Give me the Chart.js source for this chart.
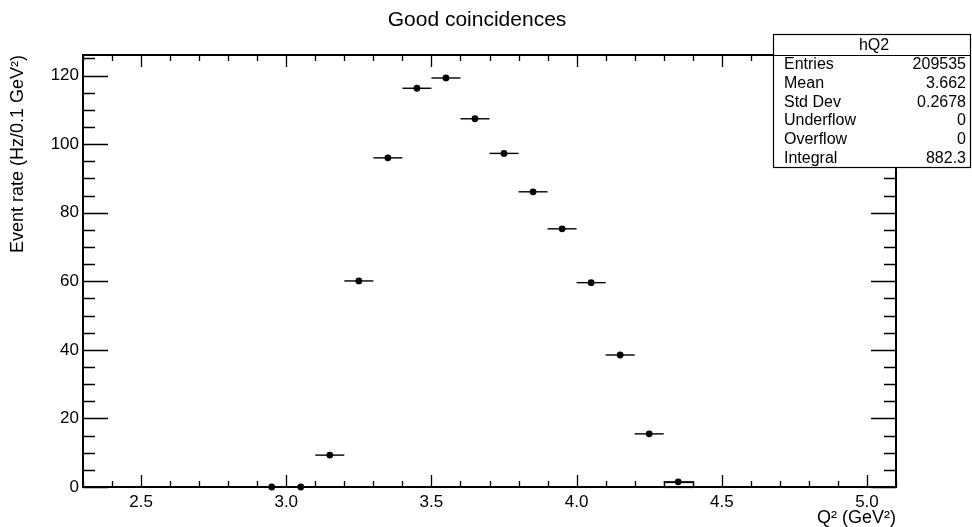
<!DOCTYPE html>
<html>
<head>
<meta charset="utf-8">
<title>Good coincidences</title>
<script src="https://cdn.jsdelivr.net/npm/chart.js@4/dist/chart.umd.min.js"></script>
<style>
  html, body { margin: 0; padding: 0; background: #ffffff; }
  canvas { display: block; }
</style>
</head>
<body>
<canvas id="chart" width="972" height="527"></canvas>
<script>
// Q^2 bin centres (GeV^2), bin width 0.1
const binCenters = [2.95, 3.05, 3.15, 3.25, 3.35, 3.45, 3.55, 3.65, 3.75, 3.85, 3.95, 4.05, 4.15, 4.25, 4.35];
// Event rate per bin (Hz / 0.1 GeV^2)
const eventRate = [0, 0, 9.3, 60.1, 96.0, 116.3, 119.3, 107.4, 97.3, 86.1, 75.3, 59.6, 38.5, 15.5, 1.5];
const binWidth = 0.1;
// Bins drawn with an outlined box under the marker
const boxedBins = [4.35];

const xTickValues = [2.5, 3.0, 3.5, 4.0, 4.5, 5.0];
const yTickValues = [0, 20, 40, 60, 80, 100, 120];

const chartTitle = 'Good coincidences';

// Statistics box
const statsTitle = 'hQ2';
const statLabels = ['Entries', 'Mean', 'Std Dev', 'Underflow', 'Overflow', 'Integral'];
const statValues = ['209535', '3.662', '0.2678', '0', '0', '882.3'];

const FONT = "'Liberation Sans', Arial, Helvetica, sans-serif";

const points = binCenters.map((x, i) => ({ x: x, y: eventRate[i] }));

// Frame with inward ticks on all four sides, plus the chart title
const framePlugin = {
  id: 'frameTicks',
  beforeDatasetsDraw(chart) {
    const { ctx, chartArea: a, scales: { x, y } } = chart;
    ctx.save();
    ctx.strokeStyle = '#000';
    ctx.lineWidth = 1.3;
    // x ticks: minor every 0.1, major every 0.5
    for (let k = 23; k <= 51; k++) {
      const v = k / 10;
      const px = Math.round(x.getPixelForValue(v)) + 0.5;
      const major = k % 5 === 0;
      const len = major ? 12 : 6;
      ctx.beginPath();
      ctx.moveTo(px, a.bottom); ctx.lineTo(px, a.bottom - len);
      ctx.moveTo(px, a.top); ctx.lineTo(px, a.top + len);
      ctx.stroke();
    }
    // y ticks: minor every 5, major every 20
    for (let v = 0; v <= 125; v += 5) {
      const py = Math.round(y.getPixelForValue(v)) + 0.5;
      const major = v % 20 === 0;
      const len = major ? 25 : 12;
      ctx.beginPath();
      ctx.moveTo(a.left, py); ctx.lineTo(a.left + len, py);
      ctx.moveTo(a.right, py); ctx.lineTo(a.right - len, py);
      ctx.stroke();
    }
    ctx.lineWidth = 2;
    ctx.strokeRect(Math.round(a.left), Math.round(a.top),
                   Math.round(a.right - a.left), Math.round(a.bottom - a.top));
    ctx.fillStyle = '#000';
    ctx.font = '21px ' + FONT;
    ctx.textAlign = 'center';
    ctx.textBaseline = 'middle';
    ctx.fillText(chartTitle, 477, 20);
    ctx.restore();
  }
};

// Horizontal bin-width bars and outlined boxes, drawn through the chart scales
const errorBarPlugin = {
  id: 'binBars',
  beforeDatasetsDraw(chart) {
    const { ctx, scales: { x, y } } = chart;
    ctx.save();
    ctx.strokeStyle = '#000';
    binCenters.forEach((c, i) => {
      const yy = y.getPixelForValue(eventRate[i]);
      const x0 = x.getPixelForValue(c - binWidth / 2);
      const x1 = x.getPixelForValue(c + binWidth / 2);
      ctx.lineWidth = 1.4;
      ctx.beginPath();
      ctx.moveTo(x0, yy);
      ctx.lineTo(x1, yy);
      ctx.stroke();
      if (boxedBins.includes(c)) {
        const y0 = y.getPixelForValue(0);
        ctx.lineWidth = 1.2;
        ctx.strokeRect(Math.round(x0) + 0.5, Math.round(yy) + 0.5,
                       Math.round(x1 - x0), Math.round(y0 - yy));
      }
    });
    ctx.restore();
  }
};

// Statistics box in the top-right corner
const statsPlugin = {
  id: 'statsBox',
  afterDraw(chart) {
    const { ctx } = chart;
    const left = 773.5, top = 34.5, right = 970.5, bottom = 167.5;
    const headerBottom = 55.5;
    ctx.save();
    ctx.fillStyle = '#fff';
    ctx.fillRect(left, top, right - left, bottom - top);
    ctx.strokeStyle = '#000';
    ctx.lineWidth = 1.2;
    ctx.strokeRect(left, top, right - left, bottom - top);
    ctx.beginPath();
    ctx.moveTo(left, headerBottom); ctx.lineTo(right, headerBottom);
    ctx.stroke();
    ctx.fillStyle = '#000';
    ctx.font = '16px ' + FONT;
    ctx.textBaseline = 'middle';
    ctx.textAlign = 'center';
    ctx.fillText(statsTitle, 874, 45.5);
    const rowH = (bottom - headerBottom) / statLabels.length;
    statLabels.forEach((lab, i) => {
      const cy = headerBottom + rowH * (i + 0.5);
      ctx.textAlign = 'left';
      ctx.fillText(lab, 784, cy);
      ctx.textAlign = 'right';
      ctx.fillText(statValues[i], 966, cy);
    });
    ctx.restore();
  }
};

new Chart(document.getElementById('chart'), {
  type: 'scatter',
  data: {
    datasets: [{
      label: 'hQ2',
      data: points,
      backgroundColor: '#000',
      borderColor: '#000',
      pointRadius: 3.4,
      pointHoverRadius: 3.4,
      pointBorderWidth: 0
    }]
  },
  options: {
    responsive: false,
    devicePixelRatio: 1,
    animation: false,
    events: [],
    clip: false,
    layout: { padding: { left: 0, right: 76, top: 55, bottom: 0 } },
    plugins: {
      legend: { display: false },
      tooltip: { enabled: false },
      title: { display: false }
    },
    scales: {
      x: {
        type: 'linear',
        min: 2.3,
        max: 5.1,
        grid: { display: false, drawTicks: false },
        border: { display: false },
        afterBuildTicks: s => { s.ticks = xTickValues.map(v => ({ value: v })); },
        afterFit: s => { s.height = 40; },
        ticks: {
          color: '#000',
          padding: 5,
          maxRotation: 0,
          autoSkip: false,
          font: { family: FONT, size: 17 },
          callback: v => Number(v).toFixed(1)
        },
        title: {
          display: true,
          text: 'Q² (GeV²)',
          align: 'end',
          color: '#000',
          padding: { top: 0, bottom: 0 },
          font: { family: FONT, size: 18, lineHeight: 1 }
        }
      },
      y: {
        type: 'linear',
        min: 0,
        max: 126,
        grid: { display: false, drawTicks: false },
        border: { display: false },
        afterBuildTicks: s => { s.ticks = yTickValues.map(v => ({ value: v })); },
        afterFit: s => { s.width = 83; },
        ticks: {
          color: '#000',
          padding: 4,
          autoSkip: false,
          font: { family: FONT, size: 17 },
          callback: v => String(v)
        },
        title: {
          display: true,
          text: 'Event rate (Hz/0.1 GeV²)',
          align: 'end',
          color: '#000',
          padding: { top: 9, bottom: 0 },
          font: { family: FONT, size: 18, lineHeight: 1 }
        }
      }
    }
  },
  plugins: [framePlugin, errorBarPlugin, statsPlugin]
});
</script>
</body>
</html>
